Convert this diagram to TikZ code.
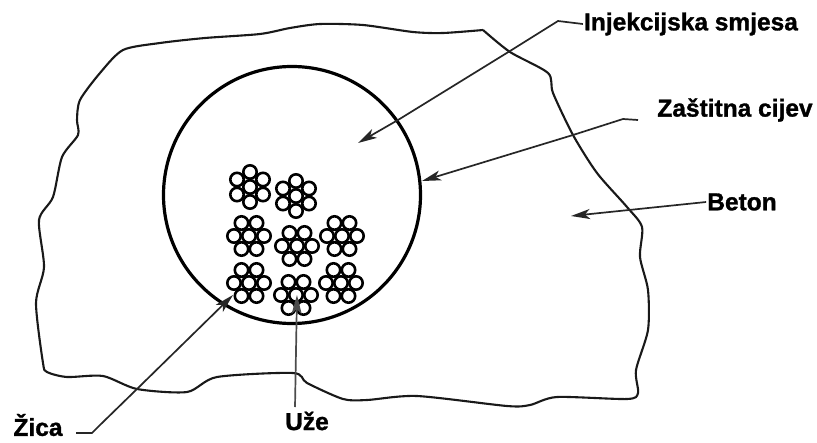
\documentclass[tikz,border=0pt]{standalone}
\usepackage{fontspec}
\setmainfont[BoldFeatures={FakeBold=1.2}]{Liberation Sans}
\usetikzlibrary{arrows.meta}
\tikzset{
  outline/.style={line width=2.1pt, line join=round, black!90},
  pointer/.style={line width=1.7pt, black!85, -{Stealth[length=19pt,width=10pt,inset=5pt]}},
  wire/.style={line width=2.6pt, black, fill=white},
  label/.style={font=\fontsize{24.5}{26}\selectfont\bfseries, inner sep=1pt, anchor=center}
}
% one rope: centre, rotation of the ring
\newcommand{\rope}[3]{
  \begin{scope}[shift={(#1,#2)}]
    \foreach \a in {0,60,...,300}
      \draw[wire] (\a+#3:15 and 15) circle (6.7);
    \draw[wire] (0,0) circle (6.7);
  \end{scope}
}
\begin{document}
\begin{tikzpicture}[x=1pt, y=-1pt]
  \useasboundingbox[fill=white] (0,0) rectangle (817,442);
  % concrete
  \draw[outline] plot[smooth, tension=0.45] coordinates {
    (483,30) (443,33) (413,32) (363,25) (320,24) (290,28) (260,34) (205,38) (160,43) (123,50) (100,73) (80,100) (77,120) (78,135)
    (62,157) (53,197) (39,220) (44,267) (36,303) (43,363) (47,372) (67,377) (103,376) (137,389) (187,392) (217,377)
    (293,373) (307,383) (343,399) (367,400) (417,396) (507,406) (530,405) (557,397) (627,399) (638,393) (636,370)
    (648,330) (648,290) (640,257) (642,227) (627,207) (597,173) (573,135) (553,93) (548,73) (510,52) (483,30)};
  % duct
  \node[circle, draw, line width=3.2pt, minimum size=257pt, inner sep=0pt] (cijev) at (292,195) {};
  % ropes
  \rope{250}{187}{90}
  \rope{296}{196}{90}
  \rope{249}{236}{0}
  \rope{297}{246}{0}
  \rope{342}{236}{0}
  \rope{249}{283}{0}
  \rope{296}{295}{0}
  \rope{341}{283}{0}
  % labels
  \node[label] (smjesa) at (691,24) {Injekcijska smjesa};
  \node[label] (zastitna) at (735,110) {Zaštitna cijev};
  \node[label] (beton) at (742,202) {Beton};
  \node[label] (uze) at (307,421) {Uže};
  \node[label] (zica) at (38,425) {Žica};
  % arrow ends
  \coordinate (smjesaTip) at (358,143);
  \coordinate (zastitnaTip) at (422,181);
  \coordinate (betonTip) at (571,216);
  \coordinate (uzeTip) at (297,295);
  \coordinate (zicaTip) at (233,295);
  \coordinate (uzeEnd) at (295,407);
  \coordinate (zicaEnd) at (76,433);
  \coordinate (zastitnaEnd) at (638,120);
  \draw[pointer] (smjesa.west) -- (558,21) -- (510,51) -- (398,120) -- (smjesaTip);
  \draw[pointer] (zastitnaEnd) -- (623,119) -- (573,135) -- (zastitnaTip);
  \draw[pointer] (beton.west) -- (betonTip);
  \draw[pointer, black!70] (uzeEnd) -- (uzeTip);
  \draw[pointer] (zicaEnd) -- (92,433) -- (100,425) -- (137,389) -- (zicaTip);
\end{tikzpicture}
\end{document}
